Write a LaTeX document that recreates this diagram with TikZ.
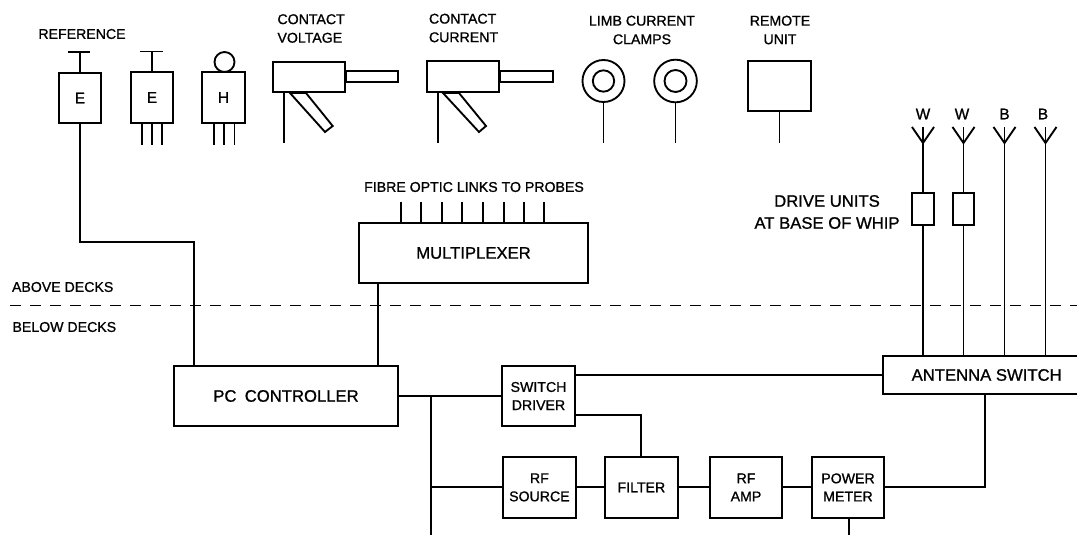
\documentclass[tikz,border=0pt]{standalone}
\usepackage{fontspec}
\setmainfont{Liberation Sans}[FakeBold=1]
\usetikzlibrary{positioning}
\tikzset{
  fx/.style={x=0.75pt, y=-0.75pt, line width=1.4pt},
  d box/.style={draw, inner sep=0pt, outer sep=0pt, align=center, font=\fontsize{10.6}{13.6}\selectfont},
  d big/.style={d box, font=\fontsize{12.5}{16.5}\selectfont},
  d let/.style={d box, font=\fontsize{11.5}{14}\selectfont},
  d ring/.style={draw, circle, inner sep=0pt, outer sep=0pt},
  d text/.style={inner sep=0pt, outer sep=0pt, align=center, font=\fontsize{10.6}{13.9}\selectfont},
  d tbig/.style={d text, font=\fontsize{12.5}{16.5}\selectfont},
  d tlet/.style={d text, font=\fontsize{11.5}{14}\selectfont},
  d deck/.style={dash pattern=on 8pt off 7pt, line width=0.6pt},
}
\begin{document}
\begin{tikzpicture}[fx]
\useasboundingbox (0,0) rectangle (1077,535);
% probes
\node[d text] (tref) at (82,34) {REFERENCE};
\node[d let, minimum width=31.5pt, minimum height=37.5pt] (e1) at (80,98) {E};
\node[d let, minimum width=31.5pt, minimum height=38pt] (e2) at (152,97.5) {E};
\node[d let, minimum width=32pt, minimum height=38pt] (h1) at (223.5,97.5) {H};
\node[d ring, minimum size=15pt] (hc) at (224.5,62) {};
\coordinate (e1t) at (80,52); \coordinate (e2t) at (152,51.5);
\draw (e1.north) -- (e1t); \draw (e2.north) -- (e2t);
\draw (68,52) -- (90,52); \draw (140,51.5) -- (163,51.5);
\draw (142,123) -- (142,145); \draw (152,123) -- (152,145); \draw (162,123) -- (162,145);
\draw (213.7,123) -- (213.7,145); \draw (224,123) -- (224,145); \draw (234.5,123) -- (234.5,145);
% contact probes
\node[d text, align=left, anchor=west] (tcv) at (277.5,28.5) {CONTACT\\VOLTAGE};
\node[d text, align=left, anchor=west] (tcc) at (429,28) {CONTACT\\CURRENT};
\node[d box, minimum width=54pt, minimum height=22.5pt] (cv) at (309,77) {};
\node[d box, minimum width=39pt, minimum height=8.2pt, anchor=west] (cvt) at (346,76.5) {};
\node[d box, minimum width=54pt, minimum height=23pt] (cc) at (463,76.5) {};
\node[d box, minimum width=39.5pt, minimum height=8.2pt, anchor=west] (cct) at (500,76.5) {};
\coordinate (cvl) at (284,143); \coordinate (ccl) at (438,143);
\draw (cvl |- cv.south) -- (cvl); \draw (ccl |- cc.south) -- (ccl);
\draw (290,93) -- (306,93) -- (332.7,126) -- (325,132) -- cycle;
\draw (443,93) -- (459,93) -- (486,126) -- (479,132) -- cycle;
% clamps and remote unit
\node[d text] (tlc) at (642,30) {LIMB CURRENT\\CLAMPS};
\node[d ring, minimum size=31.5pt] (cl1) at (603.5,81) {};
\node[d ring, minimum size=16pt] (cl1i) at (603.5,81) {};
\node[d ring, minimum size=32pt] (cl2) at (675.5,81) {};
\node[d ring, minimum size=16.5pt] (cl2i) at (675.5,81) {};
\draw (cl1.south) -- (603.5,143); \draw (cl2.south) -- (675.5,143);
\node[d text] (trm) at (780,30) {REMOTE\\UNIT};
\node[d box, minimum width=47pt, minimum height=37pt] (rm) at (779.5,86) {};
\draw (rm.south) -- (779.5,143);
% multiplexer
\node[d text] (tfo) at (474,187) {FIBRE OPTIC LINKS TO PROBES};
\node[d big, minimum width=171.75pt, minimum height=45pt] (mux) at (473.5,253) {MULTIPLEXER};
\draw (401,223) -- (401,202); \draw (421,223) -- (421,202); \draw (442,223) -- (442,202); \draw (462,223) -- (462,202);
\draw (483,223) -- (483,202); \draw (504,223) -- (504,202); \draw (524,223) -- (524,202); \draw (544,223) -- (544,202);
% deck line
\coordinate (dl) at (10,305); \coordinate (dr) at (1077,305);
\draw[d deck] (dl) -- (dr);
\node[d text, anchor=west] (tad) at (12,287) {ABOVE DECKS};
\node[d text, anchor=west] (tbd) at (12.5,327) {BELOW DECKS};
% below decks
\node[d big, minimum width=168pt, minimum height=44.5pt] (pc) at (286,396) {PC\hspace{0.5em}CONTROLLER};
\node[d box, minimum width=55pt, minimum height=45pt] (swd) at (538.5,396) {SWITCH\\DRIVER};
\node[d box, minimum width=54.5pt, minimum height=45.5pt] (src) at (539.4,487.4) {RF\\SOURCE};
\node[d box, minimum width=54.5pt, minimum height=45.5pt] (flt) at (641.4,487.4) {FILTER};
\node[d box, minimum width=54pt, minimum height=45.5pt] (amp) at (746,487.4) {RF\\AMP};
\node[d box, minimum width=54.5pt, minimum height=45.5pt] (mtr) at (848,487.4) {POWER\\METER};
\node[d big, draw=none, minimum width=145.5pt, minimum height=28.5pt] (ant) at (980,375) {\hspace*{10pt}ANTENNA SWITCH};
\draw (ant.north east) -- (ant.north west) -- (ant.south west) -- (ant.south east);
% aerials
\node[d tlet] (tw1) at (923,114) {W};
\node[d tlet] (tw2) at (962,114) {W};
\node[d tlet] (tb1) at (1004.5,114) {B};
\node[d tlet] (tb2) at (1043,114) {B};
\node[d tbig] (tdu) at (827,212) {DRIVE UNITS\\AT BASE OF WHIP};
\node[d box, minimum width=16.5pt, minimum height=24pt] (du1) at (923,209) {};
\node[d box, minimum width=16pt, minimum height=24pt] (du2) at (963.5,209) {};
\coordinate (w1) at (923,143); \coordinate (w2) at (963.5,143); \coordinate (b1) at (1004.5,143); \coordinate (b2) at (1045.5,143);
\draw (912,127) -- (w1) -- (934,127); \draw (952.5,127) -- (w2) -- (974.5,127);
\draw (993.5,127) -- (b1) -- (1015.5,127); \draw (1034.5,127) -- (b2) -- (1056.5,127);
\draw (923,127) -- (du1.north); \draw (963.5,127) -- (du2.north); \draw (1004.5,127) -- (b1 |- ant.north); \draw (1045.5,127) -- (b2 |- ant.north);
\draw (du1.south) -- (du1 |- ant.north); \draw (du2.south) -- (du2 |- ant.north);
% connections
\coordinate (r1) at (80,242); \coordinate (r2) at (194,242); \coordinate (mo) at (378,283);
\draw (e1.south) -- (r1) -- (r2) -- (r2 |- pc.north);
\draw (mo) -- (mo |- pc.north);
\coordinate (jn) at (430.7,396); \coordinate (jd) at (430.7,535);
\draw (pc.east) -- (swd.west); \draw (jn) -- (jd); \draw (jn |- src.west) -- (src.west);
\draw (ant.west) -- (ant.west -| swd.east);
\coordinate (swo) at (575.5,415); \draw (swo) -| (flt.north);
\draw (src.east) -- (flt.west); \draw (flt.east) -- (amp.west); \draw (amp.east) -- (mtr.west);
\coordinate (asb) at (985,394); \draw (mtr.east) -| (asb);
\coordinate (md) at (849,535); \draw (md |- mtr.south) -- (md);
\end{tikzpicture}
\end{document}
